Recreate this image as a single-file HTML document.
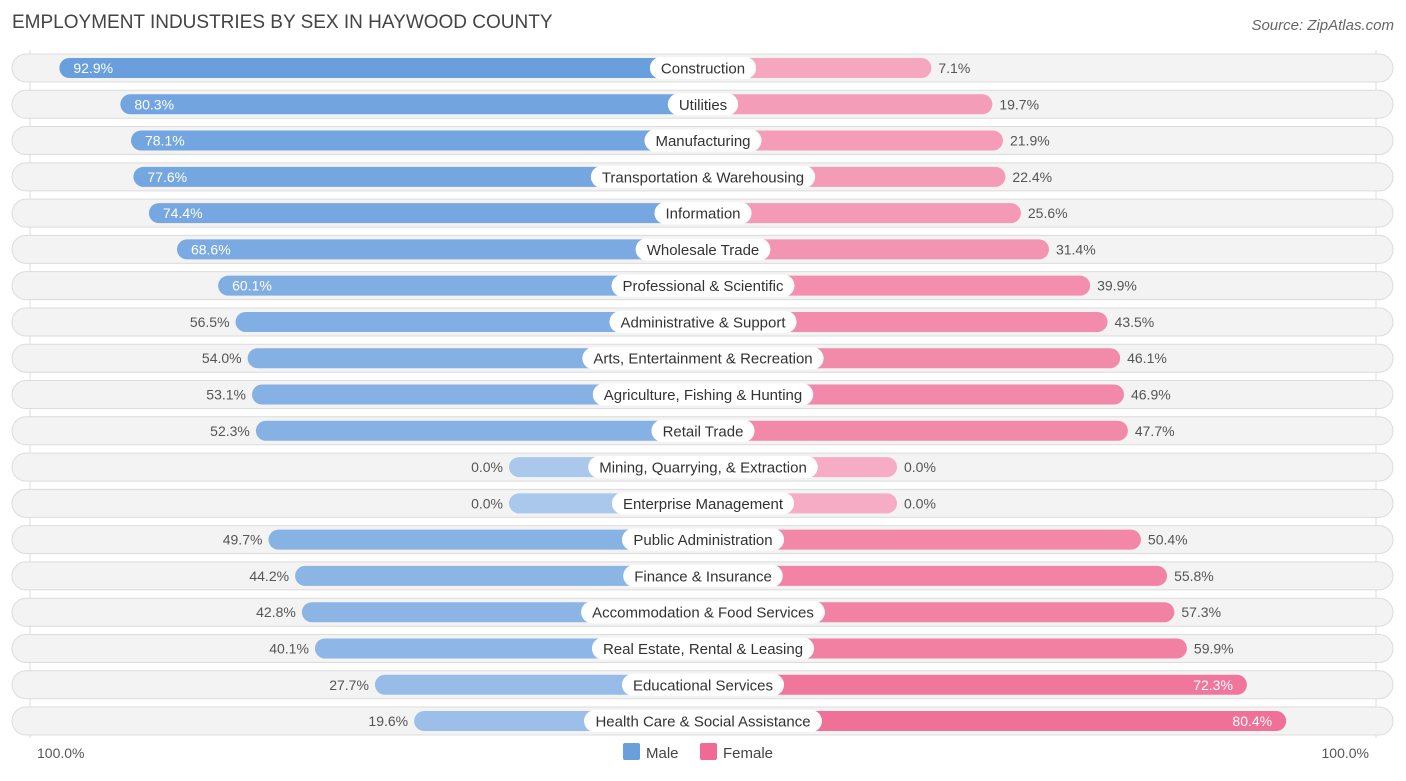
<!DOCTYPE html>
<html><head><meta charset="utf-8"><style>
body{margin:0;background:#fff;font-family:"Liberation Sans",sans-serif;}
svg text{font-family:"Liberation Sans",sans-serif;}
</style></head><body>
<svg width="1406" height="776" xmlns="http://www.w3.org/2000/svg" id="chart">
<text x="12" y="28" font-size="19" fill="#444">EMPLOYMENT INDUSTRIES BY SEX IN HAYWOOD COUNTY</text>
<text x="1394" y="30" font-size="15" fill="#666" font-style="italic" text-anchor="end">Source: ZipAtlas.com</text>
<line x1="30" y1="50" x2="30" y2="738" stroke="#ddd"/>
<line x1="1376" y1="50" x2="1376" y2="738" stroke="#ddd"/>
<g id="rows"></g>
<text x="37" y="758" font-size="14" fill="#555">100.0%</text>
<text x="1369" y="758" font-size="14" fill="#555" text-anchor="end">100.0%</text>
<rect x="623" y="743" width="17" height="17" rx="2" fill="#6a9fdc"/>
<text x="646" y="758" font-size="15" fill="#444">Male</text>
<rect x="700" y="743" width="17" height="17" rx="2" fill="#f06a93"/>
<text x="723" y="758" font-size="15" fill="#444">Female</text>
</svg>
<script>
const categories=["Construction","Utilities","Manufacturing","Transportation & Warehousing","Information","Wholesale Trade","Professional & Scientific","Administrative & Support","Arts, Entertainment & Recreation","Agriculture, Fishing & Hunting","Retail Trade","Mining, Quarrying, & Extraction","Enterprise Management","Public Administration","Finance & Insurance","Accommodation & Food Services","Real Estate, Rental & Leasing","Educational Services","Health Care & Social Assistance"];
const maleValues=[92.9,80.3,78.1,77.6,74.4,68.6,60.1,56.5,54.0,53.1,52.3,0.0,0.0,49.7,44.2,42.8,40.1,27.7,19.6];
const femaleValues=[7.1,19.7,21.9,22.4,25.6,31.4,39.9,43.5,46.1,46.9,47.7,0.0,0.0,50.4,55.8,57.3,59.9,72.3,80.4];
const NS="http://www.w3.org/2000/svg";
const cx=703, y0=68, step=36.28;
function w(v){return 194+4.84*v;}
function yPos(i){return y0+i*step;}
function mix(a,b,t){return "rgb("+a.map((c,k)=>Math.round(c+(b[k]-c)*t)).join(",")+")";}
const g=document.getElementById("rows");
function mk(tag,attrs){const e=document.createElementNS(NS,tag);for(const k in attrs)e.setAttribute(k,attrs[k]);return e;}
const meas=document.createElement("canvas").getContext("2d");meas.font="15px 'Liberation Sans'";
categories.forEach((cat,i)=>{
  const y=yPos(i);
  const bg=mk("rect",{x:12,y:y-14,width:1381,height:28,rx:14,fill:"#f3f3f3",stroke:"#dcdcdc"});
  
  
  g.appendChild(bg);
  const mv=maleValues[i], fv=femaleValues[i];
  const mw=w(mv), fw=w(fv);
  const mb=mk("rect",{x:cx-mw,y:y-10,width:mw,height:20,rx:10,fill:mix([170,200,236],[100,156,220],mv/100)});
  
  
  g.appendChild(mb);
  const fb=mk("rect",{x:cx,y:y-10,width:fw,height:20,rx:10,fill:mix([246,172,196],[238,98,140],fv/100)});
  
  
  g.appendChild(fb);
  const tw=meas.measureText(cat).width+22;
  const lb=mk("rect",{x:cx-tw/2,y:y-11,width:tw,height:22,rx:11,fill:"#fff"});
  
  
  g.appendChild(lb);
  const lt=mk("text",{x:cx,y:y+5.5,"font-size":15,fill:"#333","text-anchor":"middle"});
  lt.textContent=cat;
  
  
  g.appendChild(lt);
  const mIn=mv>=60;
  const mt=mk("text",{x:mIn?cx-mw+14:cx-mw-6,y:y+5,"font-size":14,fill:mIn?"#fff":"#555","text-anchor":mIn?"start":"end"});
  mt.textContent=mv.toFixed(1)+"%";
  
  
  g.appendChild(mt);
  const fIn=fv>=60;
  const ft=mk("text",{x:fIn?cx+fw-14:cx+fw+7,y:y+5,"font-size":14,fill:fIn?"#fff":"#555","text-anchor":fIn?"end":"start"});
  ft.textContent=fv.toFixed(1)+"%";
  
  
  g.appendChild(ft);
});
</script>
</body></html>
